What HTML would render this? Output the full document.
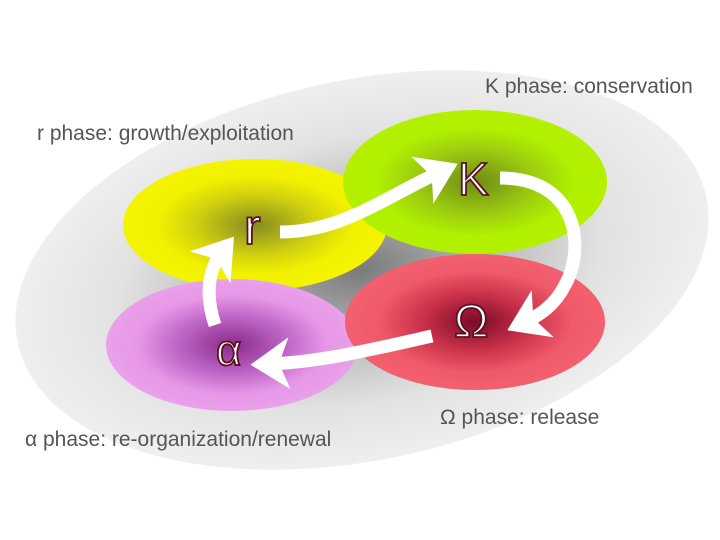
<!DOCTYPE html>
<html><head><meta charset="utf-8"><style>body{margin:0;background:#fff}svg{display:block}</style></head><body>
<svg width="720" height="540" viewBox="0 0 720 540" xmlns="http://www.w3.org/2000/svg">
<defs>
<radialGradient id="bg" cx="50%" cy="50%" r="50%"><stop offset="0" stop-color="#7a7a7a"/><stop offset="0.35" stop-color="#b8b8b8"/><stop offset="0.7" stop-color="#e2e2e2"/><stop offset="1" stop-color="#efefef"/></radialGradient>
<radialGradient id="gy"><stop offset="0" stop-color="#858a20"/><stop offset="0.45" stop-color="#d0d010"/><stop offset="0.75" stop-color="#f2f200"/><stop offset="1" stop-color="#f4f400"/></radialGradient>
<radialGradient id="gg"><stop offset="0" stop-color="#6f8a18"/><stop offset="0.45" stop-color="#9ccc10"/><stop offset="0.75" stop-color="#b0f000"/><stop offset="1" stop-color="#b4f000"/></radialGradient>
<radialGradient id="gr"><stop offset="0" stop-color="#7a0a28"/><stop offset="0.4" stop-color="#c83048"/><stop offset="0.75" stop-color="#f05a6a"/><stop offset="1" stop-color="#f26070"/></radialGradient>
<radialGradient id="gp"><stop offset="0" stop-color="#8a2a8a"/><stop offset="0.45" stop-color="#c068c8"/><stop offset="0.75" stop-color="#e698e6"/><stop offset="1" stop-color="#eaa0ea"/></radialGradient>
<marker id="ah" markerWidth="4" markerHeight="4" refX="1.5" refY="2" orient="auto" markerUnits="strokeWidth"><path d="M0,0 L3,2 L0,4 L0.8,2 Z" fill="#fff"/></marker>
</defs>
<ellipse cx="362" cy="270" rx="352" ry="190" transform="rotate(-12 362 270)" fill="url(#bg)"/>
<ellipse cx="255" cy="225" rx="132" ry="66" fill="url(#gy)"/>
<ellipse cx="475" cy="182" rx="132" ry="72" fill="url(#gg)"/>
<ellipse cx="232" cy="345" rx="126" ry="66" fill="url(#gp)"/>
<ellipse cx="475" cy="322" rx="130" ry="68" fill="url(#gr)"/>
<g fill="none" stroke="#fff" stroke-width="13" stroke-linecap="butt">
<path d="M280,232 C340,232 380,200 440,172" marker-end="url(#ah)"/>
<path d="M500,178 C580,178 585,250 565,285 C555,305 540,315 525,322" marker-end="url(#ah)"/>
<path d="M432,336 C370,350 320,362 270,364" marker-end="url(#ah)"/>
<path d="M215,325 C205,295 208,270 222,252" marker-end="url(#ah)"/>
</g>
<g font-family="Liberation Sans, sans-serif" fill="#fff" stroke="#5a1020" stroke-width="1.8" font-size="46">
<text x="458" y="195">K</text>
<text x="244" y="244" font-size="50">r</text>
<text x="454" y="337">Ω</text>
<text x="216" y="365" font-size="44">α</text>
</g>
<g font-family="Liberation Sans, sans-serif" fill="#555" font-size="21">
<text x="485" y="93">K phase: conservation</text>
<text x="37" y="140">r phase: growth/exploitation</text>
<text x="440" y="424">Ω phase: release</text>
<text x="25" y="446">α phase: re-organization/renewal</text>
</g>
</svg>
</body></html>
